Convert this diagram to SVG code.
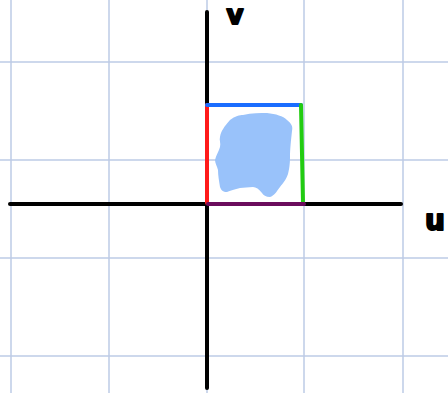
<svg xmlns="http://www.w3.org/2000/svg" width="448" height="393" viewBox="0 0 448 393">
<style>
.grid line{stroke:#bccbe6;stroke-width:1.5}
.axis{stroke:#000;stroke-width:4;stroke-linecap:round;fill:none}
.edge{stroke-width:4;stroke-linecap:round;fill:none}
.lbl{font-family:"DejaVu Sans","Liberation Sans",sans-serif;font-weight:bold;fill:#000;stroke:#000;stroke-width:2;stroke-linejoin:round}
</style>
<rect width="448" height="393" fill="#fff"/>
<g id="grid" class="grid">
<line x1="11" y1="0" x2="11" y2="393"/>
<line x1="109" y1="0" x2="109" y2="393"/>
<line x1="207" y1="0" x2="207" y2="393"/>
<line x1="304" y1="0" x2="304" y2="393"/>
<line x1="403" y1="0" x2="403" y2="393"/>
<line x1="0" y1="62" x2="448" y2="62"/>
<line x1="0" y1="160" x2="448" y2="160"/>
<line x1="0" y1="258" x2="448" y2="258"/>
<line x1="0" y1="356" x2="448" y2="356"/>
</g>
<g id="region">
<path d="M230,120 C235,116 240,115 243,115 C252,113 260,113 267,113 C276,114 283,116 287,120 C292,124 293,127 292,131 C291,140 290,150 290,157 C290,165 289,170 288,174 C286,180 283,183 280,187 C277,191 274,196 270,197 C266,197 263,195 262,193 C259,189 256,187 253,187 C248,187 244,188 240,188 C235,189 230,191 227,192 C223,192 221,190 220,187 C219,181 218,175 218,170 C217,166 215,163 215,160 C216,155 219,151 220,147 C221,143 219,140 220,137 C221,131 224,127 230,120 Z" fill="#99c2fa"/>
</g>
<g id="axes">
<line class="axis" x1="207" y1="12" x2="207" y2="388"/>
<line class="axis" x1="10" y1="204" x2="401" y2="204"/>
</g>
<g id="square">
<line class="edge" x1="207" y1="105" x2="207" y2="203" stroke="#ff1a1a"/>
<line class="edge" x1="207" y1="105" x2="301" y2="105" stroke="#1a6dff"/>
<line class="edge" x1="301" y1="105" x2="303" y2="203" stroke="#22cc11"/>
<line class="edge" x1="208" y1="204" x2="304" y2="204" stroke="#6b0c5c"/>
</g>
<g id="labels">
<text class="lbl" x="235" y="24" font-size="26" text-anchor="middle">v</text>
<text class="lbl" x="425" y="230" font-size="28">u</text>
</g>
</svg>
